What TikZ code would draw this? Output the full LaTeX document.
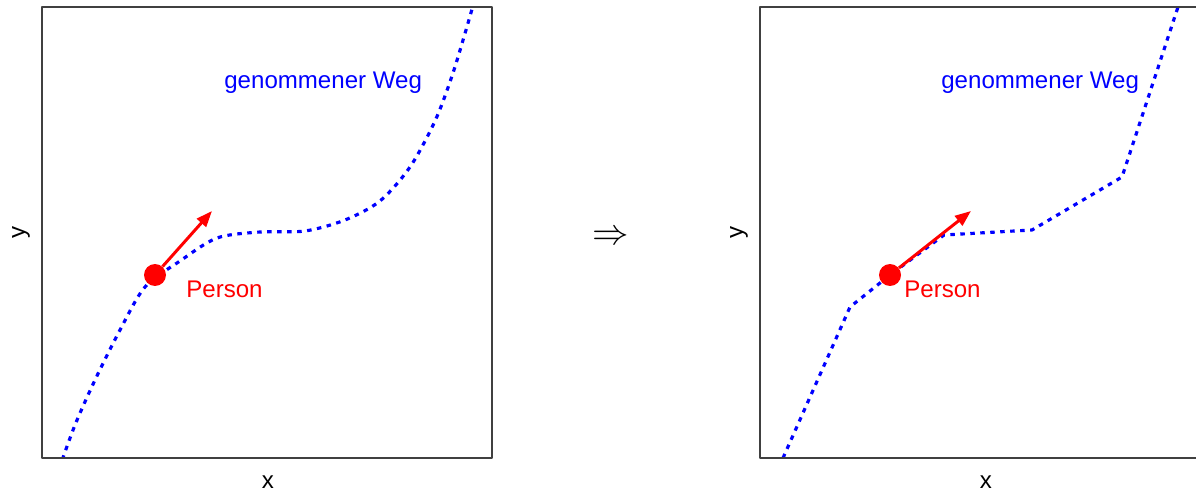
\documentclass[tikz,border=0pt]{standalone}
\usepackage{fontspec}
\setmainfont{Liberation Sans}
\usetikzlibrary{arrows.meta}
\definecolor{wegblue}{RGB}{0,0,255}
\definecolor{personred}{RGB}{255,0,0}
\definecolor{framegray}{RGB}{64,64,64}

\begin{document}
\begin{tikzpicture}[x=0.02cm,y=-0.02cm,>=Stealth,line join=round,
  frame/.style={framegray,line width=0.85pt},
  weg/.style={wegblue,line width=1.8pt,dash pattern=on 0.09cm off 0.11cm},
  person/.style={circle,fill=personred,inner sep=0pt,minimum size=0.44cm},
  richtung/.style={-{Triangle[length=0.32cm,width=0.24cm]},personred,line width=1.7pt},
  lab/.style={font=\fontsize{13.7}{16}\selectfont,inner sep=0pt}]
 \clip (0,0) rectangle (1196,493);
 % links: glatter Weg
 \begin{scope}
  \clip (42,7) rectangle (492,458);
  \draw[weg] plot[smooth,tension=0.5] coordinates {
   (59,469) (75,425) (95,380) (120,330) (145,287) (180,261) (217,238)
   (260,232) (305,231) (345,220) (380,201) (410,167) (435,121)
   (452,76) (466,30) (476,-5)};
 \end{scope}
 \draw[frame] (42,7) rectangle (492,458);
 \node[person] (p1) at (155,275) {};
 \coordinate (t1) at (212,211);
 \draw[richtung] (p1) -- (t1);
 \node[lab,wegblue,anchor=base west] (w1) at (224,89) {genommener Weg};
 \node[lab,personred,anchor=base west] (n1) at (186,297) {Person};
 \node[lab,rotate=90] (y1) at (21,232) {y};
 \node[lab] (x1) at (268,482) {x};
 % Pfeil
 \node[font=\fontsize{22}{26}\selectfont,inner sep=0pt] (impl) at (611,238) {$\Rightarrow$};
 % rechts: stueckweise linearer Weg
 \draw[weg] (783,458) -- (850,307) -- (890,275) -- (944,235)
  -- (1032,230) -- (1122,177) -- (1178,7);
 \draw[frame] (760,7) rectangle (1210,458);
 \node[person] (p2) at (890,275) {};
 \coordinate (t2) at (971,211);
 \draw[richtung] (p2) -- (t2);
 \node[lab,wegblue,anchor=base west] (w2) at (941,89) {genommener Weg};
 \node[lab,personred,anchor=base west] (n2) at (904,297) {Person};
 \node[lab,rotate=90] (y2) at (739,232) {y};
 \node[lab] (x2) at (986,482) {x};
\end{tikzpicture}
\end{document}
